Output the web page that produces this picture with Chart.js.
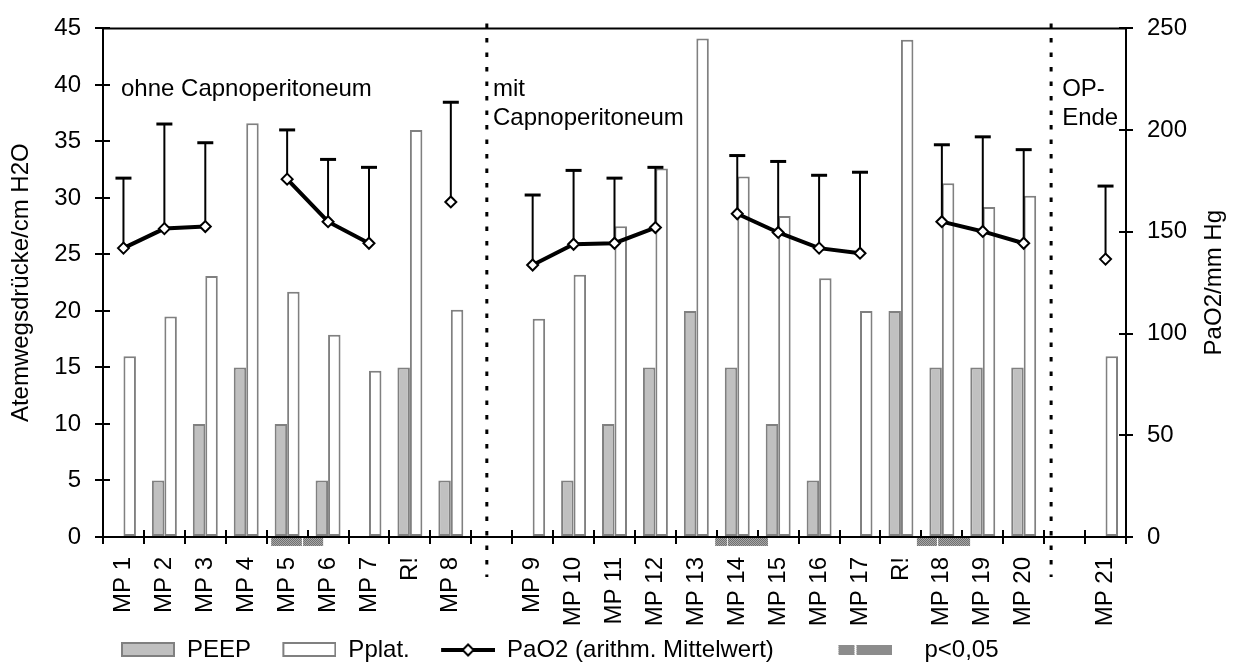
<!DOCTYPE html>
<html>
<head>
<meta charset="utf-8">
<script src="https://cdn.jsdelivr.net/npm/chart.js@4.4.0/dist/chart.umd.min.js"></script>
<style>
  html, body { margin: 0; padding: 0; background: #fff; }
  #wrap { width: 1241px; height: 666px; position: relative; }
</style>
</head>
<body>
<div id="wrap"><canvas id="chart"></canvas></div>
<script>
const labels = ['MP 1', 'MP 2', 'MP 3', 'MP 4', 'MP 5', 'MP 6', 'MP 7', 'R!', 'MP 8', '',
    'MP 9', 'MP 10', 'MP 11', 'MP 12', 'MP 13', 'MP 14', 'MP 15', 'MP 16', 'MP 17', 'R!',
    'MP 18', 'MP 19', 'MP 20', '', 'MP 21'];

// cm H2O (left axis)
const peep = [0, 5, 10, 15, 10, 5, 0, 15, 5, null,
    0, 5, 10, 15, 20, 15, 10, 5, 0, 20,
    15, 15, 15, null, 0];
const pplat = [16, 19.5, 23.1, 36.6, 21.7, 17.9, 14.7, 36, 20.1, null,
    19.3, 23.2, 27.5, 32.6, 44.1, 31.9, 28.4, 22.9, 20, 44,
    31.3, 29.2, 30.2, null, 16];

// mm Hg (right axis), mean and standard deviation
const pao2Mean = [142, 151.6, 152.6, null, 175.9, 155, 144.4, null, 164.7, null,
    133.7, 143.9, 144.4, 152.1, null, 158.9, 149.7, 142, 139.5, null,
    155, 150.2, 144.4, null, 136.6];
const pao2Sd = [34.4, 51.4, 41.2, null, 24.2, 30.6, 37.3, null, 49, null,
    34.4, 36.3, 32, 29.6, null, 28.6, 34.9, 35.8, 39.8, null,
    37.8, 46.5, 46, null, 35.9];

// p<0,05 markers (from, to) in category index units
const sigRanges = [[3.61, 4.36], [4.39, 4.88], [14.46, 14.75], [14.77, 15.75], [19.39, 19.88], [19.91, 20.69]];

// phase separators and their captions, category index units
const phaseBreaks = [8.88, 22.67];
const phaseNotes = [
    {x: -0.06, lines: ['ohne Capnoperitoneum']},
    {x: 9.03, lines: ['mit', 'Capnoperitoneum']},
    {x: 22.94, lines: ['OP-', 'Ende']},
];

const FONT = '"Liberation Sans", Arial, sans-serif';
Chart.defaults.font.family = FONT;
Chart.defaults.font.size = 24;
Chart.defaults.color = '#000';


function checker() {
    const c = document.createElement('canvas');
    c.width = 2;
    c.height = 2;
    const g = c.getContext('2d');
    g.fillStyle = '#a8a8a8';
    g.fillRect(0, 0, 2, 2);
    g.fillStyle = '#707070';
    g.fillRect(0, 0, 1, 1);
    g.fillRect(1, 1, 1, 1);
    return c;
}


function legendIcon(draw) {
    const c = document.createElement('canvas');
    c.width = 62;
    c.height = 18;
    draw(c.getContext('2d'));
    return c;
}

const iconPeep = legendIcon(function(g) {
    g.fillStyle = '#c0c0c0';
    g.fillRect(9, 2, 52, 13);
    g.strokeStyle = '#808080';
    g.lineWidth = 2;
    g.strokeRect(9, 2, 52, 13);
});
const iconPplat = legendIcon(function(g) {
    g.fillStyle = '#fff';
    g.fillRect(9, 2, 52, 13);
    g.strokeStyle = '#808080';
    g.lineWidth = 2;
    g.strokeRect(9, 2, 52, 13);
});
const iconPao2 = legendIcon(function(g) {
    g.strokeStyle = '#000';
    g.lineWidth = 4;
    g.beginPath();
    g.moveTo(8, 9);
    g.lineTo(62, 9);
    g.stroke();
    g.beginPath();
    g.moveTo(29.5, 9);
    g.lineTo(35, 3.5);
    g.lineTo(40.5, 9);
    g.lineTo(35, 14.5);
    g.closePath();
    g.fillStyle = '#fff';
    g.fill();
    g.lineWidth = 2;
    g.stroke();
});
const iconSig = legendIcon(function(g) {
    g.fillStyle = g.createPattern(checker(), 'repeat');
    g.fillRect(8, 4, 16, 10);
    g.fillRect(26, 4, 36, 10);
});


const extras = {
    id: 'extras',
    beforeDatasetsDraw(chart) {
        const {ctx, chartArea: a, scales: {x, y, y2}} = chart;
        ctx.save();
        ctx.strokeStyle = '#000';
        ctx.lineWidth = 2;
        ctx.beginPath();
        ctx.moveTo(a.left, a.top);
        ctx.lineTo(a.right, a.top);
        // inner half of the crossing tick marks
        for (let i = 0; i <= labels.length; i++) {
            const px = Math.round(x.getPixelForValue(i - 0.5));
            ctx.moveTo(px, a.bottom);
            ctx.lineTo(px, a.bottom - 7);
        }
        y.ticks.forEach(function(t) {
            const py = Math.round(y.getPixelForValue(t.value));
            ctx.moveTo(a.left, py);
            ctx.lineTo(a.left + 7, py);
        });
        y2.ticks.forEach(function(t) {
            const py = Math.round(y2.getPixelForValue(t.value));
            ctx.moveTo(a.right, py);
            ctx.lineTo(a.right - 7, py);
        });
        ctx.stroke();
        ctx.restore();
    },
    beforeDatasetDraw(chart, args) {
        // error bars go over the bars but under the PaO2 line
        if (args.index !== 2) return;
        const {ctx, scales: {x, y2}} = chart;
        ctx.save();
        ctx.strokeStyle = '#000';
        pao2Mean.forEach(function(m, i) {
            if (m === null) return;
            const px = x.getPixelForValue(i);
            const y0 = y2.getPixelForValue(m);
            const y1 = y2.getPixelForValue(m + pao2Sd[i]);
            ctx.lineWidth = 2;
            ctx.beginPath();
            ctx.moveTo(px, y0);
            ctx.lineTo(px, y1);
            ctx.stroke();
            ctx.lineWidth = 3;
            ctx.beginPath();
            ctx.moveTo(px - 8, y1);
            ctx.lineTo(px + 8, y1);
            ctx.stroke();
        });
        ctx.restore();
    },
    afterDatasetsDraw(chart) {
        const {ctx, chartArea: a, scales: {x, y}} = chart;
        ctx.save();

        ctx.fillStyle = ctx.createPattern(checker(), 'repeat');
        sigRanges.forEach(function(r) {
            const x0 = x.getPixelForValue(r[0]);
            const x1 = x.getPixelForValue(r[1]);
            ctx.fillRect(x0, a.bottom + 1, x1 - x0, 8);
        });

        ctx.strokeStyle = '#000';
        ctx.lineWidth = 3;
        ctx.setLineDash([4.5, 10]);
        phaseBreaks.forEach(function(b) {
            const px = x.getPixelForValue(b);
            ctx.beginPath();
            ctx.moveTo(px, a.top - 5);
            ctx.lineTo(px, a.bottom + 40);
            ctx.stroke();
        });
        ctx.setLineDash([]);

        ctx.fillStyle = '#000';
        ctx.font = '24px ' + FONT;
        ctx.textAlign = 'left';
        ctx.textBaseline = 'alphabetic';
        phaseNotes.forEach(function(n) {
            const px = x.getPixelForValue(n.x);
            const py = y.getPixelForValue(39);
            n.lines.forEach(function(t, k) {
                ctx.fillText(t, px, py + k * 28.5);
            });
        });

        // right axis title reads bottom to top
        ctx.translate(a.right + 88, (a.top + a.bottom) / 2);
        ctx.rotate(-Math.PI / 2);
        ctx.textAlign = 'center';
        ctx.textBaseline = 'middle';
        ctx.fillText('PaO2/mm Hg', 0, 0);
        ctx.restore();
    }
};


// a zero-height bar should leave the axis line alone
function barBorder(ctx) {
    return ctx.raw ? 2 : 0;
}

const config = {
    type: 'bar',
    data: {
        labels: labels,
        datasets: [{
            label: 'PEEP',
            data: peep,
            backgroundColor: '#c0c0c0',
            borderColor: '#808080',
            borderWidth: barBorder,
            borderSkipped: false,
            categoryPercentage: 0.61,
            barPercentage: 1,
            yAxisID: 'y',
            order: 1,
        }, {
            label: 'Pplat.',
            data: pplat,
            backgroundColor: '#ffffff',
            borderColor: '#808080',
            borderWidth: barBorder,
            borderSkipped: false,
            categoryPercentage: 0.61,
            barPercentage: 1,
            yAxisID: 'y',
            order: 1,
        }, {
            type: 'line',
            label: 'PaO2 (arithm. Mittelwert)',
            data: pao2Mean,
            yAxisID: 'y2',
            borderColor: '#000',
            borderWidth: 4,
            tension: 0,
            spanGaps: false,
            pointStyle: 'rectRot',
            pointRadius: 5.5,
            pointHoverRadius: 5.5,
            pointBackgroundColor: '#fff',
            pointBorderColor: '#000',
            pointBorderWidth: 2,
            order: 0,
        }]
    },
    options: {
        responsive: true,
        maintainAspectRatio: false,
        animation: false,
        devicePixelRatio: 1,
        layout: {
            padding: {top: 21, left: 0, right: 0, bottom: -6}
        },
        plugins: {
            tooltip: {enabled: false},
            legend: {
                position: 'bottom',
                align: 'start',
                fullSize: false,
                onClick: null,
                labels: {
                    usePointStyle: true,
                    pointStyleWidth: 62,
                    padding: 10,
                    color: '#000',
                    font: {size: 24},
                    generateLabels: function() {
                        return [
                            {text: 'PEEP  ', pointStyle: iconPeep, lineWidth: 0, hidden: false, datasetIndex: 0},
                            {text: 'Pplat.  ', pointStyle: iconPplat, lineWidth: 0, hidden: false, datasetIndex: 1},
                            {text: 'PaO2 (arithm. Mittelwert)       ', pointStyle: iconPao2, lineWidth: 0, hidden: false, datasetIndex: 2},
                            {text: '   p<0,05', pointStyle: iconSig, lineWidth: 0, hidden: false},
                        ];
                    }
                }
            }
        },
        scales: {
            x: {
                offset: true,
                grid: {
                    drawOnChartArea: false,
                    offset: true,
                    tickLength: 7,
                    color: '#000',
                    lineWidth: 2,
                },
                border: {color: '#000', width: 2},
                ticks: {
                    color: '#000',
                    font: {size: 24},
                    autoSkip: false,
                    minRotation: 90,
                    maxRotation: 90,
                    padding: 13,
                },
                afterFit: function(scale) { scale.height = 91; }
            },
            y: {
                position: 'left',
                min: 0,
                max: 45,
                grid: {drawOnChartArea: false, tickLength: 8, color: '#000', lineWidth: 2},
                border: {color: '#000', width: 2},
                ticks: {stepSize: 5, color: '#000', font: {size: 24}, padding: 14},
                title: {
                    display: true,
                    text: 'Atemwegsdrücke/cm H2O',
                    color: '#000',
                    font: {size: 24},
                    padding: {top: 7, bottom: 0},
                },
                afterFit: function(scale) { scale.width = 103; }
            },
            y2: {
                position: 'right',
                min: 0,
                max: 250,
                grid: {drawOnChartArea: false, tickLength: 7, color: '#000', lineWidth: 2},
                border: {color: '#000', width: 2},
                ticks: {stepSize: 50, color: '#000', font: {size: 24}, padding: 14},
                afterFit: function(scale) { scale.width = 115; }
            }
        }
    },
    plugins: [extras]
};

document.addEventListener('DOMContentLoaded', function() {
    new Chart(document.getElementById('chart'), config);
});
</script>
</body>
</html>
